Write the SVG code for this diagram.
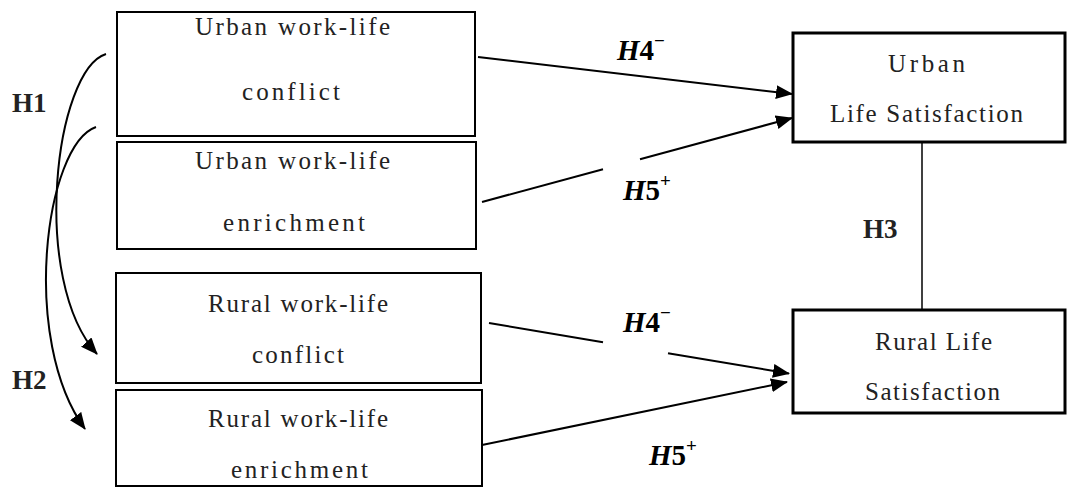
<svg xmlns="http://www.w3.org/2000/svg" width="1067" height="488" viewBox="0 0 1067 488">
<style>
.box{fill:#fff;stroke:#000;stroke-width:2}
.bx2{fill:#fff;stroke:#000;stroke-width:3}
.t{font-family:"Liberation Serif",serif;font-size:25px;fill:#222}
.h{font-family:"Liberation Serif",serif;font-size:27px;font-weight:bold;fill:#222}
.m{font-family:"Liberation Serif",serif;font-size:29px;font-weight:bold;fill:#000}
.ln{fill:none;stroke:#000;stroke-width:2}
</style>
<defs>
<marker id="ah" markerUnits="userSpaceOnUse" markerWidth="17" markerHeight="14" refX="16" refY="7" orient="auto">
<path d="M0,0 L17,7 L0,14 z" fill="#000"/>
</marker>
</defs>
<rect width="1067" height="488" fill="#fff"/>
<g id="urban-conflict">
<rect class="box" x="117" y="12" width="358" height="124"/>
<text class="t" x="195" y="35" textLength="195" lengthAdjust="spacing">Urban work-life</text>
<text class="t" x="242" y="100" textLength="98" lengthAdjust="spacing">conflict</text>
</g>
<g id="urban-enrichment">
<rect class="box" x="117" y="142" width="359" height="107"/>
<text class="t" x="195" y="169" textLength="195" lengthAdjust="spacing">Urban work-life</text>
<text class="t" x="223" y="231" textLength="142" lengthAdjust="spacing">enrichment</text>
</g>
<g id="rural-conflict">
<rect class="box" x="116" y="273" width="365" height="110"/>
<text class="t" x="208" y="312" textLength="180" lengthAdjust="spacing">Rural work-life</text>
<text class="t" x="252" y="363" textLength="92" lengthAdjust="spacing">conflict</text>
</g>
<g id="rural-enrichment">
<rect class="box" x="116" y="390" width="366" height="96"/>
<text class="t" x="208" y="427" textLength="180" lengthAdjust="spacing">Rural work-life</text>
<text class="t" x="231" y="478" textLength="137" lengthAdjust="spacing">enrichment</text>
</g>
<g id="urban-ls">
<rect class="bx2" x="793" y="33" width="272" height="109"/>
<text class="t" x="888" y="72" textLength="77" lengthAdjust="spacing">Urban</text>
<text class="t" x="830" y="122" textLength="193" lengthAdjust="spacing">Life Satisfaction</text>
</g>
<g id="rural-ls">
<rect class="bx2" x="793" y="310" width="272" height="103"/>
<text class="t" x="875" y="350" textLength="117" lengthAdjust="spacing">Rural Life</text>
<text class="t" x="865" y="400" textLength="135" lengthAdjust="spacing">Satisfaction</text>
</g>
<g id="connectors">
<path class="ln" d="M106,54 C55,70 30,280 97,354" marker-end="url(#ah)"/>
<path class="ln" d="M96,127 C45,145 20,340 85,429" marker-end="url(#ah)"/>
<line class="ln" x1="478" y1="57" x2="792" y2="94" marker-end="url(#ah)"/>
<line class="ln" x1="482" y1="202" x2="603" y2="169.2"/>
<line class="ln" x1="640" y1="159.2" x2="792" y2="118" marker-end="url(#ah)"/>
<line class="ln" x1="489" y1="323" x2="603" y2="342.3"/>
<line class="ln" x1="668" y1="353.2" x2="789" y2="373.5" marker-end="url(#ah)"/>
<line class="ln" x1="482" y1="445" x2="787" y2="382" marker-end="url(#ah)"/>
<line x1="922" y1="142" x2="922" y2="310" stroke="#000" stroke-width="1.5"/>
</g>
<g id="labels">
<text class="h" x="12" y="112">H1</text>
<text class="h" x="12" y="389">H2</text>
<text class="h" x="863" y="238">H3</text>
<text class="m" x="617" y="60"><tspan font-style="italic">H</tspan>4<tspan font-size="19" dy="-13">−</tspan></text>
<text class="m" x="623" y="200"><tspan font-style="italic">H</tspan>5<tspan font-size="19" dy="-13">+</tspan></text>
<text class="m" x="623" y="332"><tspan font-style="italic">H</tspan>4<tspan font-size="19" dy="-13">−</tspan></text>
<text class="m" x="649" y="465"><tspan font-style="italic">H</tspan>5<tspan font-size="19" dy="-13">+</tspan></text>
</g>
</svg>
